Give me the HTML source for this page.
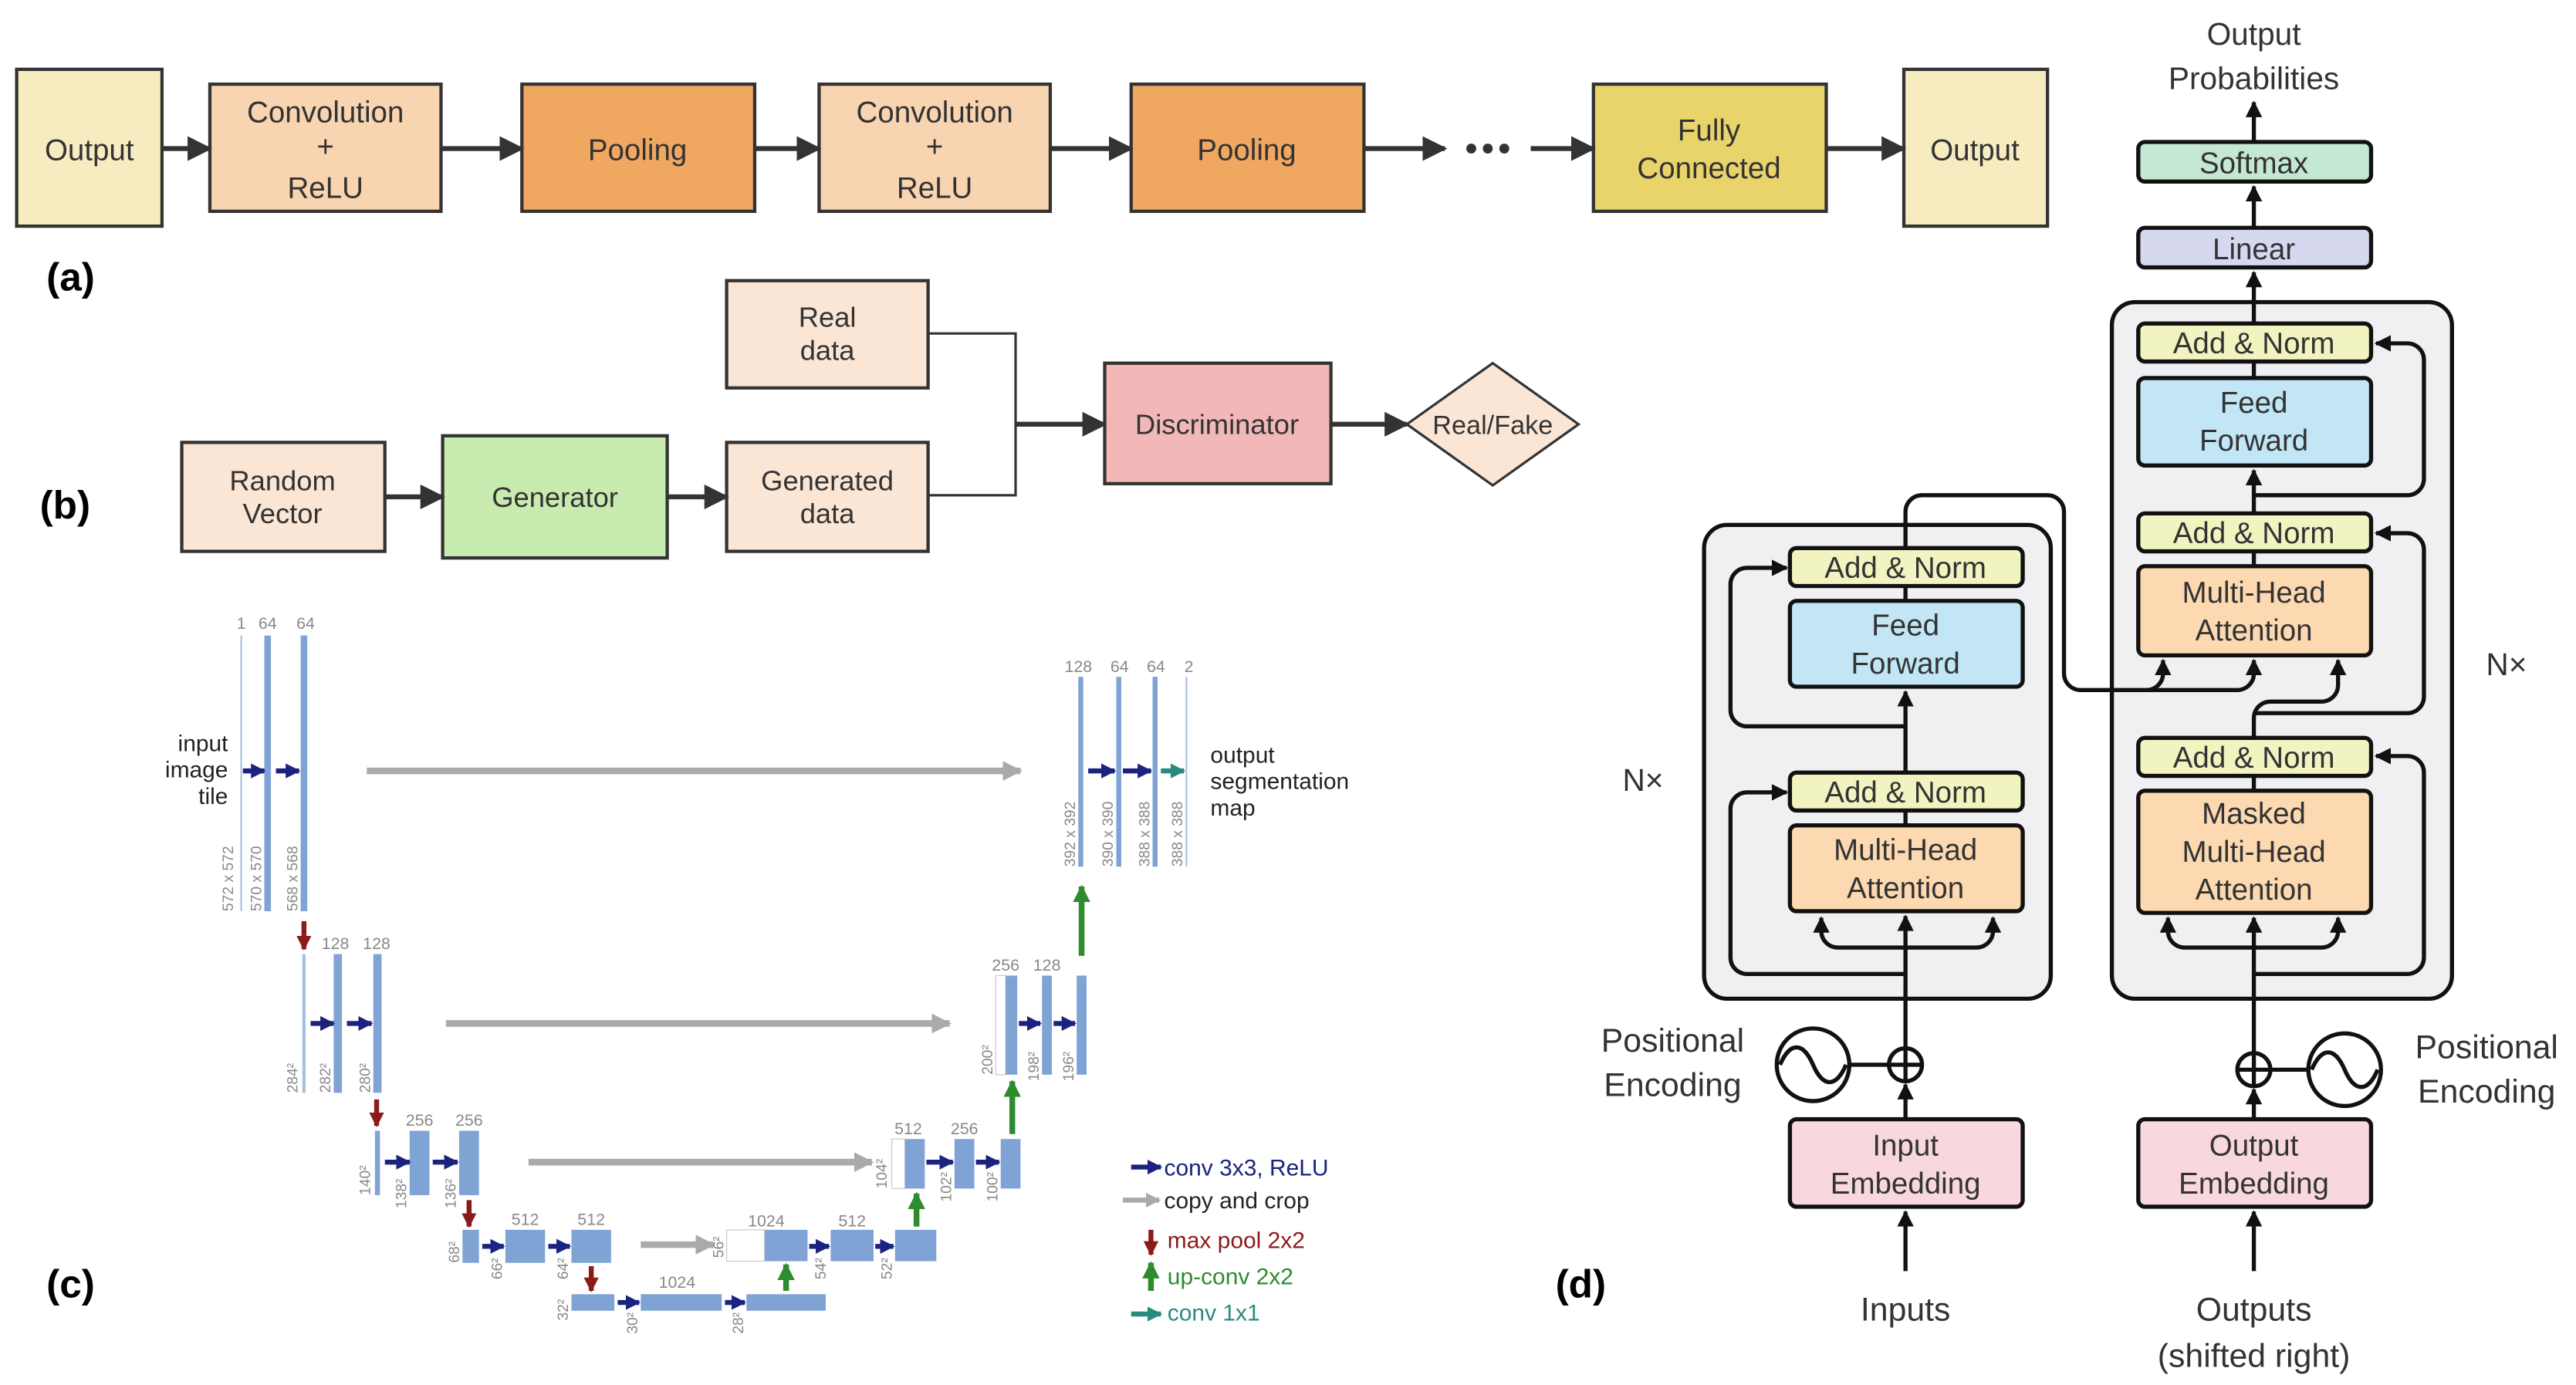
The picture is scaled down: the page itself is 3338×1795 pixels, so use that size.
<!DOCTYPE html>
<html><head><meta charset="utf-8"><style>
html,body{margin:0;padding:0;background:#fff;}
svg{display:block;}
text{font-family:"Liberation Sans",sans-serif;}
</style></head><body>
<svg width="3338" height="1795" viewBox="0 0 1560 839" xmlns="http://www.w3.org/2000/svg">
<defs>
<marker id="ah" viewBox="0 0 10 10" refX="9" refY="5" markerWidth="5" markerHeight="5" orient="auto"><path d="M0,0L10,5L0,10z" fill="#333"/></marker>
<marker id="tb" viewBox="0 0 10 10" refX="9" refY="5" markerWidth="4" markerHeight="4" orient="auto"><path d="M0,0L10,5L0,10z" fill="#111"/></marker>
<marker id="gr" viewBox="0 0 10 10" refX="9" refY="5" markerWidth="3" markerHeight="3" orient="auto"><path d="M0,0L10,5L0,10z" fill="#aaa"/></marker>
<marker id="nv" viewBox="0 0 10 10" refX="9" refY="5" markerWidth="3" markerHeight="3" orient="auto"><path d="M0,0L10,5L0,10z" fill="#1a237e"/></marker>
<marker id="tl" viewBox="0 0 10 10" refX="9" refY="5" markerWidth="3" markerHeight="3" orient="auto"><path d="M0,0L10,5L0,10z" fill="#2a8a80"/></marker>
<marker id="rd" viewBox="0 0 10 10" refX="9" refY="5" markerWidth="3" markerHeight="3" orient="auto"><path d="M0,0L10,5L0,10z" fill="#8b1a1a"/></marker>
<marker id="gn" viewBox="0 0 10 10" refX="9" refY="5" markerWidth="3" markerHeight="3" orient="auto"><path d="M0,0L10,5L0,10z" fill="#2e8b2e"/></marker>
</defs>
<!-- (a) -->
<g stroke="#333" stroke-width="2">
<rect x="10" y="42" width="88" height="95" fill="#f7ecbf"/>
<rect x="127" y="51" width="140" height="77" fill="#f8d4b0"/>
<rect x="316" y="51" width="141" height="77" fill="#f0a860"/>
<rect x="496" y="51" width="140" height="77" fill="#f8d4b0"/>
<rect x="685" y="51" width="141" height="77" fill="#f0a860"/>
<rect x="965" y="51" width="141" height="77" fill="#e8d46a"/>
<rect x="1153" y="42" width="87" height="95" fill="#f7ecbf"/>
</g>
<g stroke="#333" stroke-width="3" marker-end="url(#ah)">
<line x1="98" y1="90" x2="127" y2="90"/><line x1="267" y1="90" x2="316" y2="90"/>
<line x1="457" y1="90" x2="496" y2="90"/><line x1="636" y1="90" x2="685" y2="90"/>
<line x1="826" y1="90" x2="875" y2="90"/><line x1="927" y1="90" x2="965" y2="90"/>
<line x1="1106" y1="90" x2="1153" y2="90"/>
</g>
<g fill="#333"><circle cx="891" cy="90" r="3"/><circle cx="901" cy="90" r="3"/><circle cx="911" cy="90" r="3"/></g>
<g font-size="18" text-anchor="middle" fill="#333">
<text x="54" y="97">Output</text>
<text x="197" y="74">Convolution</text><text x="197" y="95">+</text><text x="197" y="120">ReLU</text>
<text x="386" y="97">Pooling</text>
<text x="566" y="74">Convolution</text><text x="566" y="95">+</text><text x="566" y="120">ReLU</text>
<text x="755" y="97">Pooling</text>
<text x="1035" y="85">Fully</text><text x="1035" y="108">Connected</text>
<text x="1196" y="97">Output</text>
</g>
<text x="28" y="176" font-size="24" font-weight="bold">(a)</text>
<!-- (b) -->
<g stroke="#333" stroke-width="2">
<rect x="440" y="170" width="122" height="65" fill="#fbe6d6"/>
<rect x="110" y="268" width="123" height="66" fill="#fbe6d6"/>
<rect x="268" y="264" width="136" height="74" fill="#c8ebb0"/>
<rect x="440" y="268" width="122" height="66" fill="#fbe6d6"/>
<rect x="669" y="220" width="137" height="73" fill="#f2b8b8"/>
<path d="M904,220L956,257L904,294L852,257z" fill="#fbe6d6" stroke-width="1.5"/>
<path d="M562,202H615V300H562" fill="none" stroke-width="1.5"/>
</g>
<g stroke="#333" stroke-width="3" marker-end="url(#ah)">
<line x1="615" y1="257" x2="669" y2="257"/><line x1="806" y1="257" x2="852" y2="257"/>
<line x1="233" y1="301" x2="268" y2="301"/><line x1="404" y1="301" x2="440" y2="301"/>
</g>
<g font-size="17" text-anchor="middle" fill="#333">
<text x="501" y="198">Real</text><text x="501" y="218">data</text>
<text x="171" y="297">Random</text><text x="171" y="317">Vector</text>
<text x="336" y="307">Generator</text>
<text x="501" y="297">Generated</text><text x="501" y="317">data</text>
<text x="737" y="263">Discriminator</text>
<text x="904" y="263" font-size="16">Real/Fake</text>
</g>
<text x="24" y="314" font-size="24" font-weight="bold">(b)</text>
<!-- (c) U-Net -->
<g fill="#7ea3d4">
<rect x="145.5" y="385" width="1" height="167" fill="#a8c0e0"/>
<rect x="160" y="385" width="4" height="167"/>
<rect x="182" y="385" width="4" height="167"/>
<rect x="183" y="578" width="2" height="84" fill="#a8c0e0"/>
<rect x="202" y="578" width="5" height="84"/>
<rect x="226" y="578" width="5" height="84"/>
<rect x="227" y="685" width="3" height="39"/>
<rect x="248" y="685" width="12" height="39"/>
<rect x="278" y="685" width="12" height="39"/>
<rect x="280" y="745" width="10" height="20"/>
<rect x="306" y="745" width="24" height="20"/>
<rect x="346" y="745" width="24" height="20"/>
<rect x="346" y="784" width="26" height="10"/>
<rect x="388" y="784" width="49" height="10"/>
<rect x="452" y="784" width="48" height="10"/>
<rect x="440" y="745" width="23" height="19" fill="#fff" stroke="#ccc" stroke-width="0.6"/>
<rect x="463" y="745" width="26" height="19"/>
<rect x="503" y="745" width="26" height="19"/>
<rect x="542" y="745" width="25" height="19"/>
<rect x="540" y="690" width="8" height="30" fill="#fff" stroke="#ccc" stroke-width="0.6"/>
<rect x="548" y="690" width="12" height="30"/>
<rect x="578" y="690" width="12" height="30"/>
<rect x="606" y="690" width="12" height="30"/>
<rect x="603" y="591" width="6" height="60" fill="#fff" stroke="#ccc" stroke-width="0.6"/>
<rect x="609" y="591" width="7" height="60"/>
<rect x="631" y="591" width="6" height="60"/>
<rect x="652" y="591" width="6" height="60"/>
<rect x="653" y="410" width="3" height="115"/>
<rect x="676" y="410" width="3" height="115"/>
<rect x="698" y="410" width="3" height="115"/>
<rect x="718" y="410" width="1" height="115" fill="#a8c0e0"/>
</g>
<g stroke="#aaa" stroke-width="4" marker-end="url(#gr)">
<line x1="222" y1="467" x2="618" y2="467"/>
<line x1="270" y1="620" x2="575" y2="620"/>
<line x1="320" y1="704" x2="528" y2="704"/>
<line x1="388" y1="754" x2="432" y2="754"/>
</g>
<g stroke="#1a237e" stroke-width="3" marker-end="url(#nv)">
<line x1="147" y1="467" x2="160" y2="467"/><line x1="167" y1="467" x2="181" y2="467"/>
<line x1="188" y1="620" x2="202" y2="620"/><line x1="210" y1="620" x2="225" y2="620"/>
<line x1="233" y1="704" x2="248" y2="704"/><line x1="262" y1="704" x2="277" y2="704"/>
<line x1="292" y1="755" x2="305" y2="755"/><line x1="332" y1="755" x2="345" y2="755"/>
<line x1="374" y1="789" x2="387" y2="789"/><line x1="439" y1="789" x2="451" y2="789"/>
<line x1="490" y1="755" x2="502" y2="755"/><line x1="530" y1="755" x2="541" y2="755"/>
<line x1="561" y1="704" x2="577" y2="704"/><line x1="591" y1="704" x2="605" y2="704"/>
<line x1="617" y1="620" x2="630" y2="620"/><line x1="638" y1="620" x2="651" y2="620"/>
<line x1="659" y1="467" x2="675" y2="467"/><line x1="680" y1="467" x2="697" y2="467"/>
<line x1="685" y1="707" x2="703" y2="707"/>
</g>
<g stroke="#2a8a80" stroke-width="3" marker-end="url(#tl)"><line x1="703" y1="467" x2="717" y2="467"/><line x1="685" y1="796" x2="703" y2="796"/></g>
<g stroke="#aaa" stroke-width="3" marker-end="url(#gr)"><line x1="680" y1="727" x2="702" y2="727"/></g>
<g stroke="#8b1a1a" stroke-width="3" marker-end="url(#rd)">
<line x1="184" y1="558" x2="184" y2="575"/><line x1="228" y1="666" x2="228" y2="682"/>
<line x1="284" y1="727" x2="284" y2="743"/><line x1="358" y1="767" x2="358" y2="782"/>
<line x1="697" y1="745" x2="697" y2="760"/>
</g>
<g stroke="#2e8b2e" stroke-width="3.5" marker-end="url(#gn)">
<line x1="476" y1="782" x2="476" y2="766"/><line x1="555" y1="743" x2="555" y2="723"/>
<line x1="613" y1="687" x2="613" y2="655"/><line x1="655" y1="579" x2="655" y2="537"/>
<line x1="697" y1="782" x2="697" y2="765"/>
</g>
<g font-size="10" fill="#888" text-anchor="middle">
<text x="146" y="381">1</text><text x="162" y="381">64</text><text x="185" y="381">64</text>
<text x="203" y="575">128</text><text x="228" y="575">128</text>
<text x="254" y="682">256</text><text x="284" y="682">256</text>
<text x="318" y="742">512</text><text x="358" y="742">512</text>
<text x="410" y="780">1024</text>
<text x="464" y="743">1024</text><text x="516" y="743">512</text>
<text x="550" y="687">512</text><text x="584" y="687">256</text>
<text x="609" y="588">256</text><text x="634" y="588">128</text>
<text x="653" y="407">128</text><text x="678" y="407">64</text><text x="700" y="407">64</text><text x="720" y="407">2</text>
</g>
<g font-size="9" fill="#888">
<text transform="translate(141,552) rotate(-90)">572 x 572</text>
<text transform="translate(158,552) rotate(-90)">570 x 570</text>
<text transform="translate(180,552) rotate(-90)">568 x 568</text>
<text transform="translate(180,662) rotate(-90)">284²</text>
<text transform="translate(200,662) rotate(-90)">282²</text>
<text transform="translate(224,662) rotate(-90)">280²</text>
<text transform="translate(224,724) rotate(-90)">140²</text>
<text transform="translate(246,732) rotate(-90)">138²</text>
<text transform="translate(276,732) rotate(-90)">136²</text>
<text transform="translate(278,765) rotate(-90)">68²</text>
<text transform="translate(304,775) rotate(-90)">66²</text>
<text transform="translate(344,775) rotate(-90)">64²</text>
<text transform="translate(344,800) rotate(-90)">32²</text>
<text transform="translate(386,808) rotate(-90)">30²</text>
<text transform="translate(450,808) rotate(-90)">28²</text>
<text transform="translate(438,762) rotate(-90)">56²</text>
<text transform="translate(500,775) rotate(-90)">54²</text>
<text transform="translate(540,775) rotate(-90)">52²</text>
<text transform="translate(537,720) rotate(-90)">104²</text>
<text transform="translate(576,728) rotate(-90)">102²</text>
<text transform="translate(604,728) rotate(-90)">100²</text>
<text transform="translate(601,651) rotate(-90)">200²</text>
<text transform="translate(629,655) rotate(-90)">198²</text>
<text transform="translate(650,655) rotate(-90)">196²</text>
<text transform="translate(651,525) rotate(-90)">392 x 392</text>
<text transform="translate(674,525) rotate(-90)">390 x 390</text>
<text transform="translate(696,525) rotate(-90)">388 x 388</text>
<text transform="translate(716,525) rotate(-90)">388 x 388</text>
</g>
<g font-size="14" fill="#222">
<text x="138" y="455" text-anchor="end">input</text><text x="138" y="471" text-anchor="end">image</text><text x="138" y="487" text-anchor="end">tile</text>
<text x="733" y="462">output</text><text x="733" y="478">segmentation</text><text x="733" y="494">map</text>
</g>
<g font-size="14">
<text x="705" y="712" fill="#1a237e">conv 3x3, ReLU</text>
<text x="705" y="732" fill="#222">copy and crop</text>
<text x="707" y="756" fill="#8b1a1a">max pool 2x2</text>
<text x="707" y="778" fill="#2e8b2e">up-conv 2x2</text>
<text x="707" y="800" fill="#2a8a80">conv 1x1</text>
</g>
<text x="28" y="786" font-size="24" font-weight="bold">(c)</text>
<!-- (d) Transformer -->
<rect x="1032" y="318" width="210" height="287" rx="14" fill="#f0f0f3" stroke="#111" stroke-width="2.5"/>
<rect x="1279" y="183" width="206" height="422" rx="14" fill="#f0f0f3" stroke="#111" stroke-width="2.5"/>
<g fill="none" stroke="#111" stroke-width="2.5">
<line x1="1154" y1="770" x2="1154" y2="734" marker-end="url(#tb)"/>
<line x1="1154" y1="678" x2="1154" y2="657" marker-end="url(#tb)"/>
<line x1="1154" y1="635" x2="1154" y2="555" marker-end="url(#tb)"/>
<path d="M1154,590H1058a10,10 0 0 1 -10,-10V490a10,10 0 0 1 10,-10H1082" marker-end="url(#tb)"/>
<path d="M1154,574H1113a10,10 0 0 1 -10,-10V556" marker-end="url(#tb)"/>
<path d="M1154,574H1197a10,10 0 0 0 10,-10V556" marker-end="url(#tb)"/>
<line x1="1154" y1="468" x2="1154" y2="419" marker-end="url(#tb)"/>
<path d="M1154,440H1058a10,10 0 0 1 -10,-10V354a10,10 0 0 1 10,-10H1082" marker-end="url(#tb)"/>
<path d="M1154,332V310a10,10 0 0 1 10,-10H1240a10,10 0 0 1 10,10V408a10,10 0 0 0 10,10H1355a10,10 0 0 0 10,-10V400" marker-end="url(#tb)"/>
<path d="M1300,418a10,10 0 0 0 10,-10V400" marker-end="url(#tb)"/>
<line x1="1365" y1="770" x2="1365" y2="734" marker-end="url(#tb)"/>
<line x1="1365" y1="678" x2="1365" y2="660" marker-end="url(#tb)"/>
<line x1="1365" y1="638" x2="1365" y2="556" marker-end="url(#tb)"/>
<path d="M1365,590H1458a10,10 0 0 0 10,-10V468a10,10 0 0 0 -10,-10H1439" marker-end="url(#tb)"/>
<path d="M1365,574H1323a10,10 0 0 1 -10,-10V556" marker-end="url(#tb)"/>
<path d="M1365,574H1406a10,10 0 0 0 10,-10V556" marker-end="url(#tb)"/>
<path d="M1365,447V435a10,10 0 0 1 10,-10H1406a10,10 0 0 0 10,-10V400" marker-end="url(#tb)"/>
<path d="M1365,432H1458a10,10 0 0 0 10,-10V333a10,10 0 0 0 -10,-10H1439" marker-end="url(#tb)"/>
<line x1="1365" y1="311" x2="1365" y2="285" marker-end="url(#tb)"/>
<path d="M1365,300H1458a10,10 0 0 0 10,-10V218a10,10 0 0 0 -10,-10H1439" marker-end="url(#tb)"/>
<line x1="1365" y1="196" x2="1365" y2="165" marker-end="url(#tb)"/>
<line x1="1365" y1="138" x2="1365" y2="113" marker-end="url(#tb)"/>
<line x1="1365" y1="86" x2="1365" y2="62" marker-end="url(#tb)"/>
<circle cx="1098" cy="645" r="22"/><path d="M1078,645c6,-14 14,-14 20,0s14,14 20,0"/>
<line x1="1120" y1="645" x2="1144" y2="645"/>
<circle cx="1154" cy="645" r="10"/><line x1="1144" y1="645" x2="1164" y2="645"/><line x1="1154" y1="635" x2="1154" y2="655"/>
<circle cx="1420" cy="648" r="22"/><path d="M1400,648c6,-14 14,-14 20,0s14,14 20,0"/>
<line x1="1375" y1="648" x2="1398" y2="648"/>
<circle cx="1365" cy="648" r="10"/><line x1="1355" y1="648" x2="1375" y2="648"/><line x1="1365" y1="638" x2="1365" y2="658"/>
</g>
<g stroke="#111" stroke-width="2.5">
<rect x="1295" y="86" width="141" height="24" rx="4" fill="#c5e8d2"/>
<rect x="1295" y="138" width="141" height="24" rx="4" fill="#d6d8f0"/>
<rect x="1295" y="196" width="141" height="23" rx="4" fill="#f1f4c0"/>
<rect x="1295" y="229" width="141" height="53" rx="4" fill="#c2e6f5"/>
<rect x="1295" y="311" width="141" height="23" rx="4" fill="#f1f4c0"/>
<rect x="1295" y="343" width="141" height="54" rx="4" fill="#fcd9b0"/>
<rect x="1295" y="447" width="141" height="23" rx="4" fill="#f1f4c0"/>
<rect x="1295" y="479" width="141" height="74" rx="4" fill="#fcd9b0"/>
<rect x="1295" y="678" width="141" height="53" rx="4" fill="#f8d7dd"/>
<rect x="1084" y="332" width="141" height="23" rx="4" fill="#f1f4c0"/>
<rect x="1084" y="364" width="141" height="52" rx="4" fill="#c2e6f5"/>
<rect x="1084" y="468" width="141" height="23" rx="4" fill="#f1f4c0"/>
<rect x="1084" y="500" width="141" height="52" rx="4" fill="#fcd9b0"/>
<rect x="1084" y="678" width="141" height="53" rx="4" fill="#f8d7dd"/>
</g>
<g stroke="#111" stroke-width="2.5">
<line x1="1154" y1="355" x2="1154" y2="364"/><line x1="1154" y1="491" x2="1154" y2="500"/>
<line x1="1365" y1="219" x2="1365" y2="229"/><line x1="1365" y1="334" x2="1365" y2="343"/><line x1="1365" y1="470" x2="1365" y2="479"/>
</g>
<g font-size="18" text-anchor="middle" fill="#333">
<text x="1365" y="27" font-size="19">Output</text><text x="1365" y="54" font-size="19">Probabilities</text>
<text x="1365" y="105">Softmax</text>
<text x="1365" y="157">Linear</text>
<text x="1365" y="214">Add &amp; Norm</text>
<text x="1365" y="250">Feed</text><text x="1365" y="273">Forward</text>
<text x="1365" y="329">Add &amp; Norm</text>
<text x="1365" y="365">Multi-Head</text><text x="1365" y="388">Attention</text>
<text x="1365" y="465">Add &amp; Norm</text>
<text x="1365" y="499">Masked</text><text x="1365" y="522">Multi-Head</text><text x="1365" y="545">Attention</text>
<text x="1365" y="700">Output</text><text x="1365" y="723">Embedding</text>
<text x="1154" y="350">Add &amp; Norm</text>
<text x="1154" y="385">Feed</text><text x="1154" y="408">Forward</text>
<text x="1154" y="486">Add &amp; Norm</text>
<text x="1154" y="521">Multi-Head</text><text x="1154" y="544">Attention</text>
<text x="1154" y="700">Input</text><text x="1154" y="723">Embedding</text>
<text x="1154" y="800" font-size="20">Inputs</text>
<text x="1365" y="800" font-size="20">Outputs</text><text x="1365" y="828" font-size="20">(shifted right)</text>
<text x="1013" y="637" font-size="20">Positional</text><text x="1013" y="664" font-size="20">Encoding</text>
<text x="1506" y="641" font-size="20">Positional</text><text x="1506" y="668" font-size="20">Encoding</text>
<text x="995" y="479" font-size="19">N×</text>
<text x="1518" y="409" font-size="19">N×</text>
</g>
<text x="942" y="786" font-size="24" font-weight="bold">(d)</text>
</svg>
</body></html>
